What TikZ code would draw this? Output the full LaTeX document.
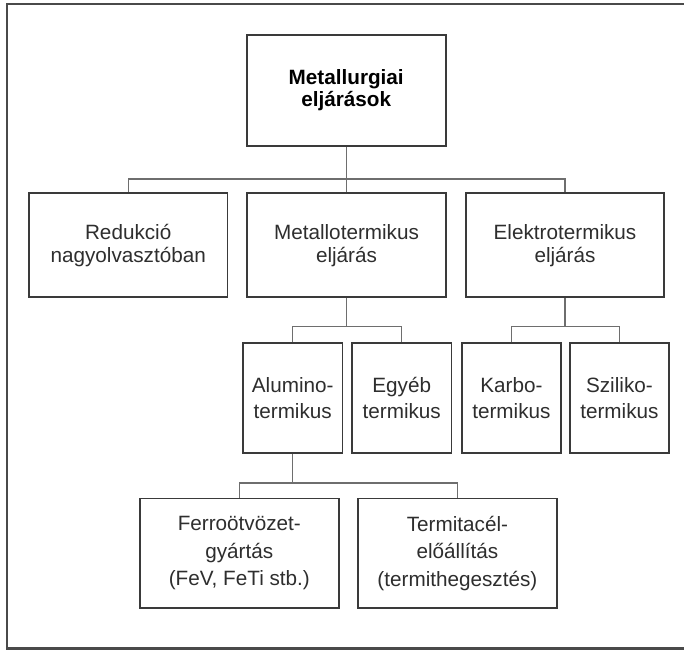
\documentclass[tikz,border=0pt]{standalone}
\usepackage{fontspec}
\setmainfont{Liberation Sans}
\definecolor{boxc}{HTML}{3A3A3A}
\definecolor{connc}{HTML}{6E6E6E}
\definecolor{framec}{HTML}{4A4A4A}
\definecolor{txtc}{HTML}{2E2E2E}
\begin{document}
\begin{tikzpicture}[x=1pt,y=-1pt,
  box/.style={draw=boxc,line width=1.9pt,inner sep=0pt,align=center,text=txtc,
    font=\fontsize{20.7}{23}\selectfont},
  wbox/.style={box,minimum width=198.5pt,minimum height=104.3pt},
  sbox/.style={box,minimum width=99.5pt,minimum height=110pt},
  fbox/.style={box,minimum width=199.3pt,minimum height=109.5pt},
  conn/.style={draw=connc,line width=1.2pt},
  framel/.style={draw=framec,line width=2.4pt}]
\path[use as bounding box] (0,0) rectangle (684,651);
\fill[white] (0,0) rectangle (684,651);
\draw[framel] (684,4) -- (7,4) -- (7,648.5) -- (684,648.5);
% top
\node[box,minimum width=199.3pt,minimum height=111pt,
  font=\fontsize{20.7}{22}\selectfont\bfseries,text=black] (top) at (346.2,90.5)
  {Metallurgiai\\eljárások};
% row 2
\node[wbox] (red) at (128.2,245.2) {Redukció\\nagyolvasztóban};
\node[wbox] (met) at (346.5,245.2) {Metallotermikus\\eljárás};
\node[wbox] (ele) at (565,245.2) {Elektrotermikus\\eljárás};
% row 3
\node[sbox,font=\fontsize{20.7}{26}\selectfont] (alu) at (292.7,398.3) {Alumino-\\termikus};
\node[sbox,font=\fontsize{20.7}{26}\selectfont] (egy) at (401.7,398.3) {Egyéb\\termikus};
\node[sbox,font=\fontsize{20.7}{26}\selectfont] (kar) at (511.4,398.3) {Karbo-\\termikus};
\node[sbox,font=\fontsize{20.7}{26}\selectfont] (szi) at (619.4,398.3) {Sziliko-\\termikus};
% row 4
\node[fbox,font=\fontsize{20.7}{27.5}\selectfont] (fer) at (239.3,553.2) {Ferroötvözet-\\gyártás\\(FeV, FeTi stb.)};
\node[fbox,font=\fontsize{20.7}{27.5}\selectfont] (ter) at (457.4,553.2) {Termitacél-\\előállítás\\(termithegesztés)};
% buses
\coordinate (b1) at (346.5,179);
\coordinate (b2) at (346.5,326.7);
\coordinate (b2r) at (565,326.7);
\coordinate (b3) at (292.7,483);
% connectors
\draw[conn] (top.south) -- (top.south |- met.north);
\draw[conn] (red.north) |- (b1) -| (ele.north);
\draw[conn] (met.south) -- (b2);
\draw[conn] (alu.north) |- (b2) -| (egy.north);
\draw[conn] (ele.south) -- (b2r);
\draw[conn] (kar.north) |- (b2r) -| (szi.north);
\draw[conn] (alu.south) -- (b3);
\draw[conn] (fer.north) |- (b3) -| (ter.north);
\end{tikzpicture}
\end{document}
